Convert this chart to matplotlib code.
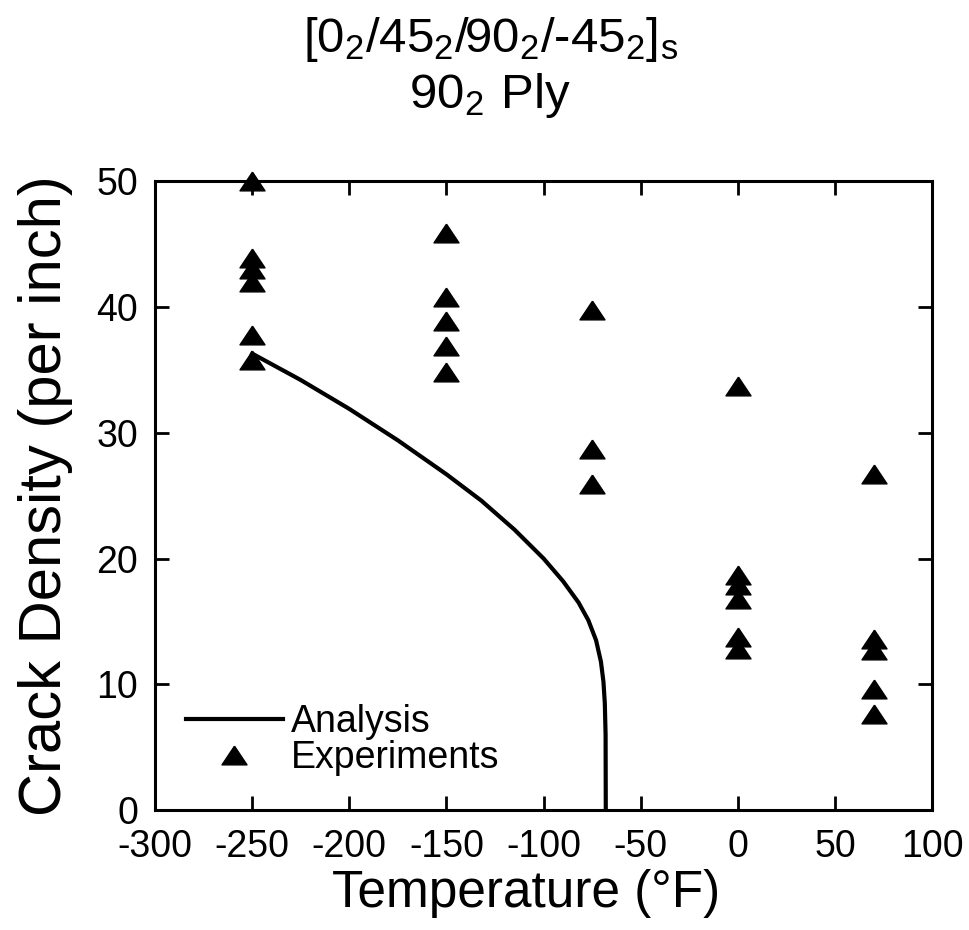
import matplotlib.pyplot as plt
import numpy as np

plt.rcParams["font.family"] = ["Liberation Sans", "DejaVu Sans"]
plt.rcParams["mathtext.fontset"] = "custom"
plt.rcParams["mathtext.rm"] = "Liberation Sans"
plt.rcParams["axes.unicode_minus"] = False

# experimental points: temperature (F) and crack density (per inch)
exp_temp = [-250, -250, -250, -250, -250, -250,
            -150, -150, -150, -150, -150,
            -75, -75, -75,
            0, 0, 0, 0, 0, 0,
            70, 70, 70, 70, 70]
exp_density = [50.0, 43.9, 43.0, 42.0, 37.8, 35.8,
               45.9, 40.8, 38.9, 36.9, 34.8,
               39.8, 28.7, 25.9,
               33.7, 18.7, 17.9, 16.8, 13.8, 12.8,
               26.7, 13.6, 12.7, 9.6, 7.6]

# analysis curve
ana_temp = [-250, -225, -200, -175, -150, -132, -115, -100, -90, -82, -77,
            -73, -70.5, -69.2, -68.5, -68.1, -68]
ana_density = [36.3, 34.2, 31.9, 29.4, 26.7, 24.6, 22.3, 20.0, 18.2, 16.5, 15.1,
               13.5, 11.8, 10.2, 8.5, 6.0, 0.0]

xticks = [-300, -250, -200, -150, -100, -50, 0, 50, 100]
yticks = [0, 10, 20, 30, 40, 50]

tri = [(0, 0.75), (-1, -0.75), (1, -0.75), (0, 0.75)]

fig = plt.figure(figsize=(9.69, 9.30), dpi=100)
ax = fig.add_axes([0.16, 0.129, 0.802, 0.676])

ax.plot(ana_temp, ana_density, color="black", linewidth=3, label="Analysis",
        solid_joinstyle="round")
ax.plot(exp_temp, exp_density, linestyle="none", marker=tri, markersize=18,
        color="black", label="Experiments", clip_on=False)

ax.set_xlim(-300, 100)
ax.set_ylim(0, 50)
ax.set_xticks(xticks)
ax.set_yticks(yticks)
ax.tick_params(direction="in", length=10, width=2, labelsize=27,
               top=True, right=True)
ax.tick_params(axis="x", pad=14)
ax.tick_params(axis="y", pad=12)
for sp in ax.spines.values():
    sp.set_linewidth(2.2)

ax.set_xlabel("Temperature (°F)", fontsize=37)
ax.xaxis.set_label_coords(0.477, -0.094)
ax.set_ylabel("Crack Density (per inch)", fontsize=43, labelpad=17)

ax.legend(loc="lower left", frameon=False, fontsize=27, handlelength=2.6,
          handletextpad=0.2, labelspacing=0.0, borderaxespad=0.0,
          bbox_to_anchor=(0.02, 0.03))

fig.text(0.506, 0.958, "$\\mathregular{[0_2/45_2/90_2/{\u2010}45_2]_s}$", fontsize=35.5,
         ha="center", va="center")
fig.text(0.506, 0.897, r"$\mathregular{90_2\ Ply}$", fontsize=35.5,
         ha="center", va="center")

fig.savefig("out.png", dpi=100)
